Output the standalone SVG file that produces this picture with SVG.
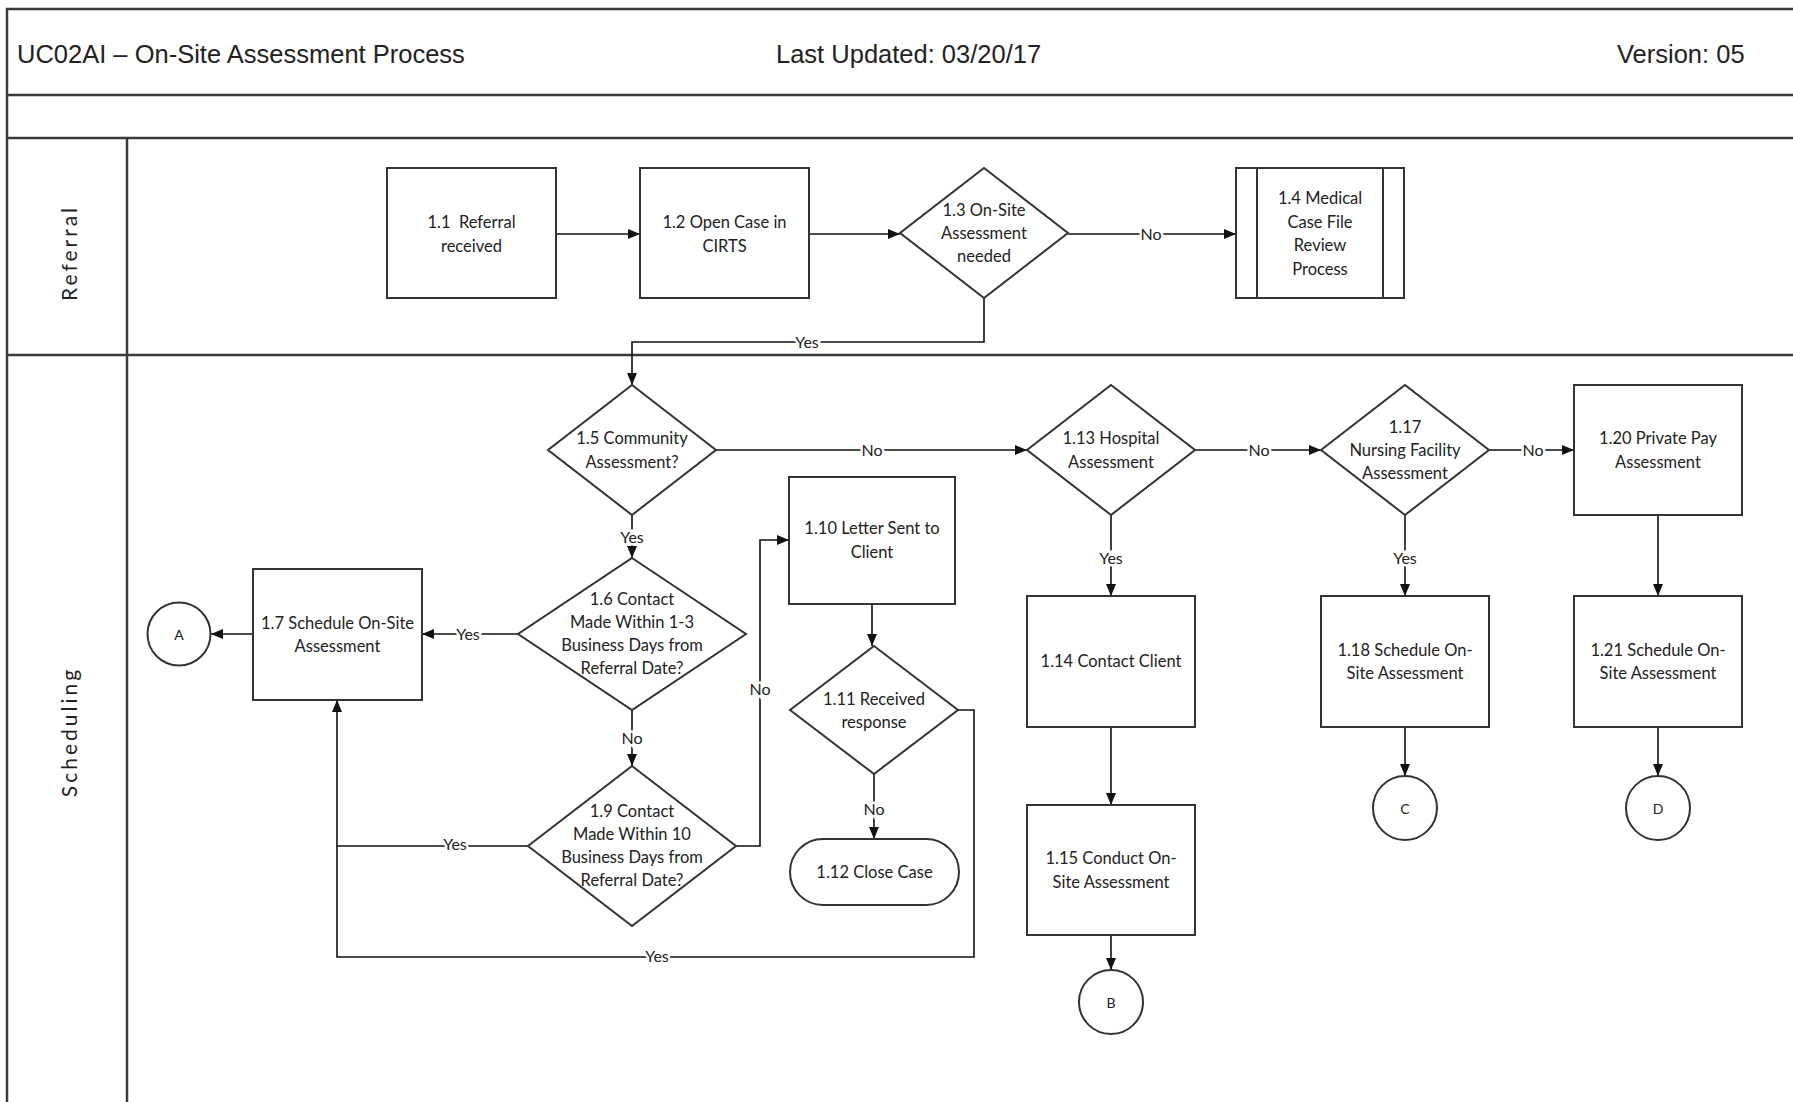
<svg xmlns="http://www.w3.org/2000/svg" width="1793" height="1102" viewBox="0 0 1793 1102">
<style>
.frame{fill:none;stroke:#3a3a3a;stroke-width:2.5}
.shape{fill:#fff;stroke:#333;stroke-width:2}
.conn{fill:none;stroke:#111;stroke-width:1.6}
.t{font-family:Lato,"Open Sans",sans-serif;font-size:16.5px;fill:#222;text-anchor:middle;dominant-baseline:central}
.lbl{font-family:Lato,"Open Sans",sans-serif;font-size:16px;fill:#222;text-anchor:middle;dominant-baseline:central;stroke:#fff;stroke-width:5;paint-order:stroke}
.hdr{font-family:"Liberation Sans",Arial,sans-serif;font-size:25.5px;fill:#222}
.lane{font-family:Lato,"Open Sans",sans-serif;font-size:21px;fill:#222;text-anchor:middle;dominant-baseline:central;letter-spacing:3px}
.circ{font-family:Lato,"Open Sans",sans-serif;font-size:14px;fill:#222;text-anchor:middle;dominant-baseline:central}
</style>
<defs>
<marker id="arr" viewBox="0 0 12 10" refX="12" refY="5" markerWidth="12" markerHeight="10" markerUnits="userSpaceOnUse" orient="auto">
<path d="M0,0 L12,5 L0,10 z" fill="#111"/>
</marker>
</defs>
<rect width="1793" height="1102" fill="#fff"/>
<g id="frame">
<path class="frame" d="M1800,9 H7 V1110 M7,95 H1800 M7,138 H1800 M7,355 H1800 M127,138 V1110"/>
<text class="hdr" x="17" y="63">UC02AI – On-Site Assessment Process</text>
<text class="hdr" x="776" y="63">Last Updated: 03/20/17</text>
<text class="hdr" x="1617" y="63">Version: 05</text>
<text class="lane" transform="translate(68,253) rotate(-90)">Referral</text>
<text class="lane" transform="translate(68,732) rotate(-90)">Scheduling</text>
</g>
<g id="connectors">
<path class="conn" marker-end="url(#arr)" d="M556,234 H640"/>
<path class="conn" marker-end="url(#arr)" d="M809,234 H900"/>
<path class="conn" marker-end="url(#arr)" d="M1068,234 H1236"/>
<path class="conn" marker-end="url(#arr)" d="M984,298 V342 H632 V385"/>
<path class="conn" marker-end="url(#arr)" d="M716,450 H1027"/>
<path class="conn" marker-end="url(#arr)" d="M632,515 V558"/>
<path class="conn" marker-end="url(#arr)" d="M518,634 H422"/>
<path class="conn" marker-end="url(#arr)" d="M253,634 H211"/>
<path class="conn" marker-end="url(#arr)" d="M632,710 V766"/>
<path class="conn" marker-end="url(#arr)" d="M528,846 H337 V700"/>
<path class="conn" marker-end="url(#arr)" d="M736,846 H760 V540 H789"/>
<path class="conn" marker-end="url(#arr)" d="M872,604 V646"/>
<path class="conn" marker-end="url(#arr)" d="M874,774 V839"/>
<path class="conn" d="M958,710 H974 V957 H337 V846"/>
<path class="conn" marker-end="url(#arr)" d="M1195,450 H1321"/>
<path class="conn" marker-end="url(#arr)" d="M1489,450 H1574"/>
<path class="conn" marker-end="url(#arr)" d="M1111,515 V596"/>
<path class="conn" marker-end="url(#arr)" d="M1405,515 V596"/>
<path class="conn" marker-end="url(#arr)" d="M1658,515 V596"/>
<path class="conn" marker-end="url(#arr)" d="M1111,727 V805"/>
<path class="conn" marker-end="url(#arr)" d="M1111,935 V970"/>
<path class="conn" marker-end="url(#arr)" d="M1405,727 V776"/>
<path class="conn" marker-end="url(#arr)" d="M1658,727 V776"/>
<text class="lbl" x="1151" y="233">No</text>
<text class="lbl" x="807" y="341">Yes</text>
<text class="lbl" x="872" y="449">No</text>
<text class="lbl" x="632" y="536">Yes</text>
<text class="lbl" x="468" y="633">Yes</text>
<text class="lbl" x="632" y="737">No</text>
<text class="lbl" x="455" y="843">Yes</text>
<text class="lbl" x="760" y="688">No</text>
<text class="lbl" x="874" y="808">No</text>
<text class="lbl" x="657" y="955">Yes</text>
<text class="lbl" x="1259" y="449">No</text>
<text class="lbl" x="1533" y="449">No</text>
<text class="lbl" x="1111" y="557">Yes</text>
<text class="lbl" x="1405" y="557">Yes</text>
</g>
<g id="n1_1"><rect class="shape" x="387" y="168" width="169" height="130"/>
<text class="t" x="471.5" y="222" xml:space="preserve">1.1  Referral</text><text class="t" x="471.5" y="246">received</text></g>
<g id="n1_2"><rect class="shape" x="640" y="168" width="169" height="130"/>
<text class="t" x="724.5" y="222">1.2 Open Case in</text><text class="t" x="724.5" y="246">CIRTS</text></g>
<g id="n1_3"><path class="shape" d="M984,168 L1068,233 L984,298 L900,233 z"/>
<text class="t" x="984" y="210">1.3 On-Site</text><text class="t" x="984" y="233">Assessment</text><text class="t" x="984" y="256">needed</text></g>
<g id="n1_4"><rect class="shape" x="1236" y="168" width="168" height="130"/><path class="shape" d="M1257,168 V298 M1383,168 V298"/>
<text class="t" x="1320" y="198">1.4 Medical</text><text class="t" x="1320" y="222">Case File</text><text class="t" x="1320" y="245">Review</text><text class="t" x="1320" y="269">Process</text></g>
<g id="n1_5"><path class="shape" d="M632,385 L716,450 L632,515 L548,450 z"/>
<text class="t" x="632" y="438">1.5 Community</text><text class="t" x="632" y="462">Assessment?</text></g>
<g id="n1_6"><path class="shape" d="M632,558 L746,634 L632,710 L518,634 z"/>
<text class="t" x="632" y="599">1.6 Contact</text><text class="t" x="632" y="622">Made Within 1-3</text><text class="t" x="632" y="645">Business Days from</text><text class="t" x="632" y="668">Referral Date?</text></g>
<g id="n1_7"><rect class="shape" x="253" y="569" width="169" height="131"/>
<text class="t" x="337.5" y="623">1.7 Schedule On-Site</text><text class="t" x="337.5" y="646">Assessment</text></g>
<g id="nA"><circle class="shape" cx="179" cy="634" r="31.5"/><text class="circ" x="179" y="634">A</text></g>
<g id="n1_9"><path class="shape" d="M632,766 L736,846 L632,926 L528,846 z"/>
<text class="t" x="632" y="811">1.9 Contact</text><text class="t" x="632" y="834">Made Within 10</text><text class="t" x="632" y="857">Business Days from</text><text class="t" x="632" y="880">Referral Date?</text></g>
<g id="n1_10"><rect class="shape" x="789" y="477" width="166" height="127"/>
<text class="t" x="872" y="528">1.10 Letter Sent to</text><text class="t" x="872" y="552">Client</text></g>
<g id="n1_11"><path class="shape" d="M874,646 L958,710 L874,774 L790,710 z"/>
<text class="t" x="874" y="699">1.11 Received</text><text class="t" x="874" y="722">response</text></g>
<g id="n1_12"><rect class="shape" x="790" y="839" width="169" height="66" rx="33"/>
<text class="t" x="874.5" y="872">1.12 Close Case</text></g>
<g id="n1_13"><path class="shape" d="M1111,385 L1195,450 L1111,515 L1027,450 z"/>
<text class="t" x="1111" y="438">1.13 Hospital</text><text class="t" x="1111" y="462">Assessment</text></g>
<g id="n1_14"><rect class="shape" x="1027" y="596" width="168" height="131"/>
<text class="t" x="1111" y="661">1.14 Contact Client</text></g>
<g id="n1_15"><rect class="shape" x="1027" y="805" width="168" height="130"/>
<text class="t" x="1111" y="858">1.15 Conduct On-</text><text class="t" x="1111" y="882">Site Assessment</text></g>
<g id="nB"><circle class="shape" cx="1111" cy="1002" r="32"/><text class="circ" x="1111" y="1002">B</text></g>
<g id="n1_17"><path class="shape" d="M1405,385 L1489,450 L1405,515 L1321,450 z"/>
<text class="t" x="1405" y="427">1.17</text><text class="t" x="1405" y="450">Nursing Facility</text><text class="t" x="1405" y="473">Assessment</text></g>
<g id="n1_18"><rect class="shape" x="1321" y="596" width="168" height="131"/>
<text class="t" x="1405" y="650">1.18 Schedule On-</text><text class="t" x="1405" y="673">Site Assessment</text></g>
<g id="nC"><circle class="shape" cx="1405" cy="808" r="32"/><text class="circ" x="1405" y="808">C</text></g>
<g id="n1_20"><rect class="shape" x="1574" y="385" width="168" height="130"/>
<text class="t" x="1658" y="438">1.20 Private Pay</text><text class="t" x="1658" y="462">Assessment</text></g>
<g id="n1_21"><rect class="shape" x="1574" y="596" width="168" height="131"/>
<text class="t" x="1658" y="650">1.21 Schedule On-</text><text class="t" x="1658" y="673">Site Assessment</text></g>
<g id="nD"><circle class="shape" cx="1658" cy="808" r="32"/><text class="circ" x="1658" y="808">D</text></g>
</svg>
